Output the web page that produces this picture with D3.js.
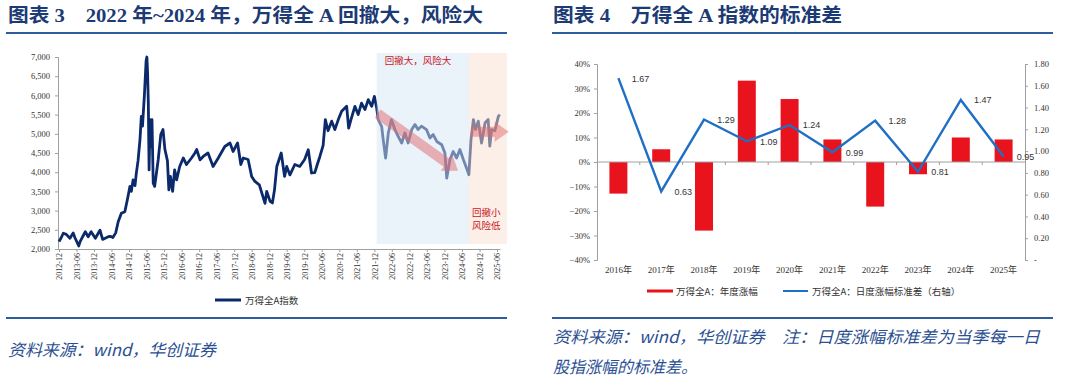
<!DOCTYPE html>
<html><head><meta charset="utf-8">
<script src="https://cdn.jsdelivr.net/npm/d3@7"></script>
<style>body{margin:0;background:#fff}svg{display:block}text{white-space:pre}</style>
</head><body>
<svg id="c" width="1080" height="383"></svg>
<script>
// ---------------- DATA ----------------
const leftDates = ["2012-12-01","2012-12-25","2013-01-15","2013-02-15","2013-03-25","2013-04-28","2013-05-15","2013-06-25","2013-07-10","2013-09-01","2013-10-01","2013-11-01","2013-12-15","2014-02-01","2014-03-01","2014-04-28","2014-05-20","2014-06-15","2014-07-15","2014-08-10","2014-09-12","2014-10-18","2014-11-15","2014-12-10","2014-12-25","2015-01-12","2015-02-01","2015-02-15","2015-03-05","2015-03-25","2015-04-08","2015-04-20","2015-05-10","2015-05-28","2015-06-05","2015-06-12","2015-06-20","2015-06-28","2015-07-08","2015-07-20","2015-07-28","2015-08-10","2015-08-25","2015-10-01","2015-10-28","2015-11-20","2015-12-10","2016-01-05","2016-01-20","2016-02-05","2016-02-28","2016-03-20","2016-04-10","2016-05-12","2016-06-18","2016-07-22","2016-09-12","2016-10-18","2016-11-05","2016-12-10","2017-01-12","2017-03-03","2017-04-25","2017-06-18","2017-08-25","2017-10-18","2017-11-20","2018-01-05","2018-02-08","2018-03-05","2018-04-25","2018-06-01","2018-07-05","2018-08-20","2018-10-18","2018-11-05","2018-12-10","2019-01-03","2019-01-25","2019-02-18","2019-04-05","2019-05-10","2019-06-01","2019-07-05","2019-08-25","2019-10-15","2019-12-05","2020-01-12","2020-02-15","2020-03-20","2020-04-15","2020-05-12","2020-06-15","2020-07-08","2020-08-05","2020-09-12","2020-10-15","2020-11-20","2020-12-25","2021-02-15","2021-03-08","2021-04-01","2021-05-12","2021-06-15","2021-07-20","2021-08-25","2021-09-28","2021-11-03","2021-12-01","2021-12-25","2022-01-10","2022-02-15","2022-03-03","2022-03-28","2022-04-25","2022-05-28","2022-07-03","2022-08-06","2022-09-12","2022-10-15","2022-11-18","2022-12-25","2023-01-28","2023-03-01","2023-04-06","2023-05-28","2023-07-03","2023-08-06","2023-09-12","2023-11-03","2023-12-06","2023-12-25","2024-01-28","2024-03-01","2024-04-06","2024-05-10","2024-06-15","2024-07-18","2024-08-12","2024-09-03","2024-09-28","2024-10-20","2024-11-18","2024-12-22","2025-01-28","2025-03-01","2025-03-18","2025-04-06","2025-05-10","2025-06-15","2025-07-01"];
const leftValues = [2190,2300,2410,2380,2280,2420,2300,2080,2200,2450,2320,2450,2280,2490,2250,2320,2330,2300,2420,2710,2930,2970,3300,3630,3500,3800,3650,3975,4300,4850,5455,5200,6000,6900,7000,6600,5800,4060,5370,4670,5370,3715,3630,4325,4980,5110,4590,4300,3540,3890,3500,4060,3800,4150,4370,4200,4370,4500,4590,4320,4410,4500,4150,4370,4670,4760,4540,4760,4200,4370,4330,3890,3760,3670,3190,3500,3240,3200,3540,4150,4500,3890,4150,3930,4200,4150,4330,4585,3980,3990,4200,4410,4700,5370,5080,5330,5110,5370,5585,5715,5150,5370,5715,5500,5800,5630,5890,5715,5975,5670,5370,5190,4850,4370,5020,5370,5110,4935,4760,5020,4760,5110,5240,5110,5200,5110,4890,4980,4800,4715,4500,3845,4330,4540,4370,4590,4330,4110,3935,4850,5370,5110,5330,4760,5290,5370,4680,5110,5080,5455,5500];
const leftYTicks = [2000,2500,3000,3500,4000,4500,5000,5500,6000,6500,7000];
const leftXStart = "2012-12-01", leftXEnd = "2025-06-01";
const shadeStarts = ["2021-12-25","2024-08-12"];
const shadeEnds = ["2024-08-12","2025-09-12"];
const arrowFrom = [["2022-01-05",5525],["2024-09-03",5055]];
const arrowTo = [["2024-04-20",4035],["2025-10-01",5055]];
const leftSeriesName = "万得全A指数";

const years = ["2016年","2017年","2018年","2019年","2020年","2021年","2022年","2023年","2024年","2025年"];
const annualReturn = [-0.129,0.052,-0.28,0.332,0.257,0.092,-0.182,-0.05,0.10,0.092];
const dailyStd = [1.67,0.63,1.29,1.09,1.24,0.99,1.28,0.81,1.47,0.95];
const pctTicks = [-0.4,-0.3,-0.2,-0.1,0,0.1,0.2,0.3,0.4];
const stdTicks = [0,0.2,0.4,0.6,0.8,1.0,1.2,1.4,1.6,1.8];
const barName = "万得全A：年度涨幅";
const lineName = "万得全A：日度涨幅标准差（右轴）";

// ---------------- DRAW ----------------
const svg = d3.select("#c");
const SERIF = "'Liberation Serif','Times New Roman','Noto Sans CJK SC',serif";
const SANS = "'Liberation Sans','Noto Sans CJK SC',sans-serif";
const CJK = "'Noto Sans CJK SC',sans-serif";
const titleColor = "#1c3a74", ruleColor = "#2f5c9c", srcColor = "#2b4f92";

function title(x, y, str, w){
  svg.append("text").attr("x",x).attr("y",y).attr("xml:space","preserve").attr("font-family",SERIF).attr("font-weight","bold")
    .attr("font-size",19).attr("fill",titleColor).attr("textLength",w).attr("lengthAdjust","spacingAndGlyphs").text(str);
}
title(8, 22, "图表 3    2022 年~2024 年，万得全 A 回撤大，风险大", 475);
title(553, 22, "图表 4    万得全 A 指数的标准差", 289);
[[6,507],[552,1053]].forEach(([a,b])=>{
  svg.append("line").attr("x1",a).attr("x2",b).attr("y1",33).attr("y2",33).attr("stroke",ruleColor).attr("stroke-width",2);
  svg.append("line").attr("x1",a).attr("x2",b).attr("y1",318).attr("y2",318).attr("stroke",ruleColor).attr("stroke-width",2);
});
function src(x,y,str,w){
  svg.append("text").attr("x",x).attr("y",y).attr("font-family",CJK).attr("font-style","italic")
    .attr("font-size",16.5).attr("fill",srcColor).attr("textLength",w).attr("lengthAdjust","spacingAndGlyphs").text(str);
}
src(8, 356, "资料来源：wind，华创证券", 208);
src(553, 343, "资料来源：wind，华创证券　注：日度涨幅标准差为当季每一日", 487);
src(553, 373, "股指涨幅的标准差。", 144);

// ---- Left chart ----
const parse = d3.utcParse("%Y-%m-%d");
const x = d3.scaleUtc().domain([parse(leftXStart), parse(leftXEnd)]).range([59, 497]);
const y = d3.scaleLinear().domain([2000, 7000]).range([249, 57]);
const L = svg.append("g");
const pts = leftDates.map((d,i)=>[parse(d), leftValues[i]]);

const yAx = L.append("g").attr("transform","translate(58,0)")
  .call(d3.axisLeft(y).tickValues(leftYTicks).tickSize(3).tickFormat(d3.format(",")));
yAx.select(".domain").attr("stroke","#a0a0a0");
yAx.selectAll(".tick line").attr("stroke","#a0a0a0");
yAx.selectAll("text").attr("font-family",SERIF).attr("font-size",8.5).attr("fill","#333").attr("x",-8);

const xticks = d3.utcMonth.range(parse(leftXStart), d3.utcDay.offset(parse(leftXEnd),1), 6);
const xAx = L.append("g").attr("transform","translate(0,249)")
  .call(d3.axisBottom(x).tickValues(xticks).tickSize(3).tickSizeOuter(0).tickFormat(d3.utcFormat("%Y-%m")));
xAx.select(".domain").attr("stroke","#a0a0a0").attr("d","M58.5,0.5H500.5");
xAx.selectAll(".tick line").attr("stroke","#a0a0a0");
xAx.selectAll("text").attr("font-family",SERIF).attr("font-size",8).attr("fill","#333")
  .attr("transform","rotate(-90)").attr("text-anchor","end").attr("x",-4).attr("y",0).attr("dy","0.35em");

L.append("path").datum(pts).attr("fill","none").attr("stroke","#0b2a6b").attr("stroke-width",2.8)
  .attr("stroke-linejoin","round").attr("d", d3.line().x(d=>x(d[0])).y(d=>y(d[1])));

const shadeFill = ["rgb(213,229,245)","rgb(249,224,208)"];
const shTop = 53, shBot = 244;
shadeStarts.forEach((s,i)=>{
  L.append("rect").attr("x",x(parse(s))).attr("y",shTop).attr("width",x(parse(shadeEnds[i]))-x(parse(s)))
    .attr("height",shBot-shTop).attr("fill",shadeFill[i]).attr("opacity",0.5);
});

function arrow(p0,p1){
  const [x0,y0]=p0,[x1,y1]=p1;
  const dx=x1-x0, dy=y1-y0, len=Math.hypot(dx,dy), ux=dx/len, uy=dy/len, nx=-uy, ny=ux;
  const sw=5, hw=10, hl=14;
  const bx=x1-ux*hl, by=y1-uy*hl;
  const P=[[x0+nx*sw,y0+ny*sw],[bx+nx*sw,by+ny*sw],[bx+nx*hw,by+ny*hw],[x1,y1],[bx-nx*hw,by-ny*hw],[bx-nx*sw,by-ny*sw],[x0-nx*sw,y0-ny*sw]];
  L.append("path").attr("d","M"+P.map(p=>p.join(",")).join("L")+"Z").attr("fill","#e06a6e").attr("opacity",0.5);
}
arrowFrom.forEach((f,i)=>arrow([x(parse(f[0])),y(f[1])],[x(parse(arrowTo[i][0])),y(arrowTo[i][1])]));

const s1 = x(parse(shadeStarts[0])), s2 = x(parse(shadeStarts[1]));
L.append("text").attr("x",s1+8).attr("y",64).attr("font-family",CJK).attr("font-size",9.5).attr("fill","#c8161d").text("回撤大，风险大");
L.append("text").attr("x",s2+3).attr("y",216).attr("font-family",CJK).attr("font-size",9.5).attr("fill","#c8161d").text("回撤小");
L.append("text").attr("x",s2+3).attr("y",229).attr("font-family",CJK).attr("font-size",9.5).attr("fill","#c8161d").text("风险低");

L.append("line").attr("x1",215).attr("x2",241).attr("y1",300).attr("y2",300).attr("stroke","#0b2a6b").attr("stroke-width",3);
L.append("text").attr("x",245).attr("y",303.5).attr("font-family",CJK).attr("font-size",9.5).attr("fill","#333").text(leftSeriesName);

// ---- Right chart ----
const R = svg.append("g");
const xb = d3.scaleBand().domain(years).range([597,1025]).paddingInner(0.58).paddingOuter(0.29);
const yl = d3.scaleLinear().domain([-0.4,0.4]).range([260,64]);
const yr = d3.scaleLinear().domain([0,1.8]).range([260,64]);

const ylAx = R.append("g").attr("transform","translate(597,0)")
  .call(d3.axisLeft(yl).tickValues(pctTicks).tickSize(3).tickFormat(d3.format(".0%")));
ylAx.select(".domain").attr("stroke","#a0a0a0");
ylAx.selectAll(".tick line").attr("stroke","#a0a0a0");
ylAx.selectAll("text").attr("font-family",SERIF).attr("font-size",8.5).attr("fill","#333").attr("x",-7);

const yrAx = R.append("g").attr("transform","translate(1025,0)")
  .call(d3.axisRight(yr).tickValues(stdTicks).tickSize(3).tickFormat(d=>d===0?"-":d3.format(".2f")(d)));
yrAx.select(".domain").attr("stroke","#a0a0a0");
yrAx.selectAll(".tick line").attr("stroke","#a0a0a0");
yrAx.selectAll("text").attr("font-family",SERIF).attr("font-size",8.5).attr("fill","#333").attr("x",9);

R.selectAll("rect.bar").data(years).enter().append("rect").attr("class","bar")
  .attr("x",d=>xb(d)).attr("width",xb.bandwidth())
  .attr("y",(d,i)=>Math.min(yl(annualReturn[i]),yl(0)))
  .attr("height",(d,i)=>Math.abs(yl(annualReturn[i])-yl(0)))
  .attr("fill","#e8131d");

const step = xb.step();
R.append("line").attr("x1",597).attr("x2",1025).attr("y1",yl(0)).attr("y2",yl(0)).attr("stroke","#a0a0a0");
years.forEach((d,i)=>{ if(i>0){ const bx = xb(d) - (step - xb.bandwidth())/2;
  R.append("line").attr("x1",bx).attr("x2",bx).attr("y1",yl(0)).attr("y2",yl(0)+3).attr("stroke","#a0a0a0"); }});

R.selectAll("text.cat").data(years).enter().append("text").attr("class","cat")
  .attr("x",d=>xb(d)+xb.bandwidth()/2).attr("y",273).attr("text-anchor","middle")
  .attr("font-family",SERIF).attr("font-size",9).attr("fill","#333").text(d=>d);

const lp = years.map((d,i)=>[xb(d)+xb.bandwidth()/2, yr(dailyStd[i])]);
R.append("path").datum(lp).attr("fill","none").attr("stroke","#1f6fc4").attr("stroke-width",2.4)
  .attr("stroke-linejoin","miter").attr("d", d3.line());
R.selectAll("text.lbl").data(dailyStd).enter().append("text").attr("class","lbl")
  .attr("x",(d,i)=>lp[i][0]+22).attr("y",(d,i)=>lp[i][1]+3.5).attr("text-anchor","middle")
  .attr("font-family",SANS).attr("font-size",9).attr("fill","#333").text(d=>d3.format(".2f")(d));

R.append("line").attr("x1",647).attr("x2",673).attr("y1",291).attr("y2",291).attr("stroke","#e8131d").attr("stroke-width",3);
R.append("text").attr("x",676).attr("y",294.5).attr("font-family",CJK).attr("font-size",9.5).attr("fill","#333").text(barName);
R.append("line").attr("x1",783).attr("x2",808).attr("y1",291).attr("y2",291).attr("stroke","#1f6fc4").attr("stroke-width",2);
R.append("text").attr("x",812).attr("y",294.5).attr("font-family",CJK).attr("font-size",9.5).attr("fill","#333").text(lineName);
</script>
</body></html>
